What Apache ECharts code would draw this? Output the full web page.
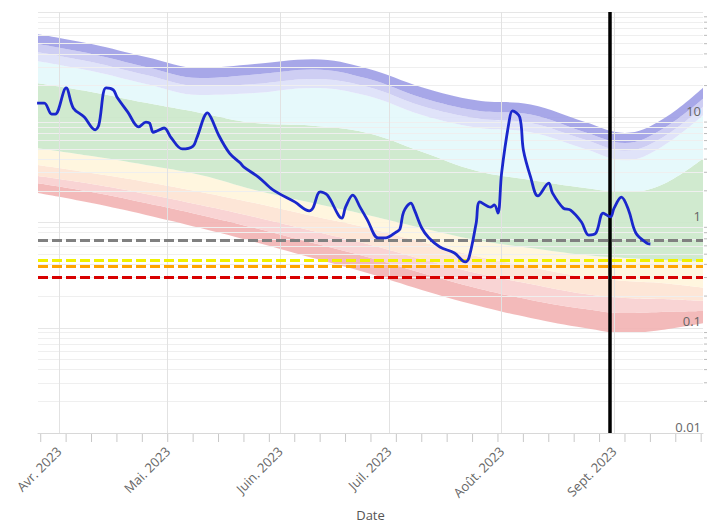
<!DOCTYPE html>
<html><head><meta charset="utf-8">
<script src="https://cdn.jsdelivr.net/npm/echarts@6/dist/echarts.min.js"></script>
<style>html,body{margin:0;padding:0;background:#fff}#c{width:715px;height:523px}</style>
</head><body><div id="c"></div>
<script>
const lineDates = ['2023-03-26','2023-03-28','2023-03-30','2023-03-31','2023-04-03','2023-04-05','2023-04-08','2023-04-11','2023-04-12','2023-04-14','2023-04-16','2023-04-17','2023-04-20','2023-04-23','2023-04-25','2023-04-26','2023-04-27','2023-04-28','2023-04-30','2023-05-02','2023-05-05','2023-05-08','2023-05-09','2023-05-12','2023-05-13','2023-05-15','2023-05-18','2023-05-21','2023-05-22','2023-05-26','2023-05-30','2023-06-05','2023-06-09','2023-06-10','2023-06-12','2023-06-14','2023-06-17','2023-06-18','2023-06-19','2023-06-21','2023-06-23','2023-06-25','2023-06-28','2023-06-30','2023-07-03','2023-07-04','2023-07-05','2023-07-07','2023-07-08','2023-07-10','2023-07-12','2023-07-15','2023-07-19','2023-07-22','2023-07-23','2023-07-25','2023-07-26','2023-07-29','2023-07-30','2023-07-31','2023-08-01','2023-08-03','2023-08-04','2023-08-06','2023-08-07','2023-08-09','2023-08-11','2023-08-14','2023-08-15','2023-08-18','2023-08-20','2023-08-23','2023-08-25','2023-08-27','2023-08-29','2023-08-31','2023-09-01','2023-09-03','2023-09-05','2023-09-07','2023-09-10','2023-09-11'];
const lineValues = [13.6,13.6,10.7,10.7,19.0,12.2,10.05,7.6,8.4,19.0,18.2,15.6,11.2,8.1,9.0,8.8,7.2,7.4,7.9,6.35,5.0,5.33,6.35,11.0,9.8,6.8,4.57,3.67,3.36,2.70,2.04,1.57,1.29,1.37,1.95,1.82,1.18,1.10,1.40,1.82,1.40,1.06,0.713,0.713,0.813,0.867,1.26,1.53,1.31,0.887,0.713,0.585,0.513,0.422,0.461,0.99,1.57,1.40,1.47,1.23,2.95,8.8,11.5,10.05,4.89,2.70,1.79,2.37,1.91,1.37,1.31,1.01,0.76,0.795,1.23,1.13,1.37,1.74,1.31,0.795,0.638,0.625];

const bandDates = ['2023-03-26','2023-04-10','2023-04-25','2023-05-10','2023-05-25','2023-06-10','2023-06-25','2023-07-10','2023-07-25','2023-08-09','2023-08-24','2023-09-04','2023-09-14','2023-09-26'];
const band0 = [1.91,1.53,1.18,0.887,0.653,0.46,0.331,0.229,0.164,0.124,0.0995,0.089,0.095,0.111];
const band1 = [2.37,1.95,1.53,1.18,0.887,0.638,0.47,0.331,0.239,0.184,0.151,0.138,0.141,0.144];
const band2 = [2.77,2.32,1.87,1.47,1.13,0.83,0.625,0.45,0.331,0.261,0.209,0.192,0.188,0.180];
const band3 = [3.52,2.95,2.43,1.95,1.53,1.15,0.887,0.653,0.481,0.378,0.303,0.278,0.266,0.239];
const band4 = [5.10,4.28,3.52,2.83,2.04,1.53,1.18,0.887,0.682,0.573,0.491,0.460,0.440,0.421];
const band5 = [21.1,17.4,13.7,11.0,8.8,8.3,7.1,4.7,3.1,2.54,2.13,1.95,2.27,4.19];
const band6 = [34.2,27.5,20.7,16.3,17.0,19.0,16.0,10.5,8.0,7.2,5.0,3.9,5.2,10.8];
const band7 = [41.7,33.5,25.2,19.8,20.7,23.1,19.5,12.8,9.8,8.8,6.1,4.8,6.3,13.0];
const band8 = [49.7,39.9,30.1,23.6,25.5,28.5,23.3,15.3,11.6,10.6,7.2,5.7,7.6,15.5];
const band9 = [61.8,49.6,37.4,29.4,32.0,35.5,29.0,19.3,14.5,13.2,9.0,7.1,9.4,19.8];
const bandColors = ['#f2b3b3','#f8cfcf','#fde3d3','#fff5dc','#cbe8ca','#e3f8fb','#dde0f8','#c9c9f2','#9d9de6'];

const thresholdValues = [0.68, 0.44, 0.375, 0.305];
const thresholdColors = ['#808080', '#f0f000', '#ffa500', '#d80000'];
const markerDate = '2023-08-30 16:00';

const monthStarts = ['2023-04-01','2023-05-01','2023-06-01','2023-07-01','2023-08-01','2023-09-01'];
const weekTicks = ['2023-03-27','2023-04-03','2023-04-10','2023-04-17','2023-04-24','2023-05-01','2023-05-08','2023-05-15','2023-05-22','2023-05-29','2023-06-05','2023-06-12','2023-06-19','2023-06-26','2023-07-03','2023-07-10','2023-07-17','2023-07-24','2023-07-31','2023-08-07','2023-08-14','2023-08-21','2023-08-28','2023-09-04','2023-09-11','2023-09-18','2023-09-25'];
const monthLabels = ['Janv. 2023','Févr. 2023','Mars 2023','Avr. 2023','Mai. 2023','Juin. 2023','Juil. 2023','Août. 2023','Sept. 2023','Oct. 2023','Nov. 2023','Déc. 2023'];
const yTickLabels = {'0.01':'0.01','0.1':'0.1','1':'1','10':'10'};
const yMinorGrid = [0.02,0.03,0.04,0.05,0.06,0.07,0.08,0.09,0.2,0.3,0.4,0.5,0.6,0.7,0.8,0.9,2,3,4,5,6,7,8,9,20,30,40,50,60,70,80,90];

const xMin = +new Date(2023, 2, 26, 6, 0);
const xMax = +new Date(2023, 8, 25, 12, 0);
const yMin = 0.01, yMax = 100;

const bounds = [band0, band1, band2, band3, band4, band5, band6, band7, band8, band9];
const series = [];
series.push({
  type: 'line', stack: 'bands', smooth: 0.4, symbol: 'none', silent: true, z: 1,
  lineStyle: {width: 0, opacity: 0},
  data: bandDates.map((d, i) => [d, band0[i]])
});
for (let k = 1; k < bounds.length; k++) {
  series.push({
    type: 'line', stack: 'bands', smooth: 0.4, symbol: 'none', silent: true, z: 1,
    lineStyle: {width: 0, opacity: 0},
    areaStyle: {color: bandColors[k - 1], opacity: 0.9},
    data: bandDates.map((d, i) => [d, bounds[k][i] - bounds[k - 1][i]])
  });
}
// gridlines (minor horizontal, monthly vertical)
series.push({
  type: 'line', data: [], silent: true, z: 0,
  markLine: {silent: true, symbol: 'none', label: {show: false}, animation: false,
    lineStyle: {color: '#efefef', width: 1, type: 'solid'},
    data: yMinorGrid.map(v => ({yAxis: v})).concat(monthStarts.map(d => ({xAxis: d, lineStyle: {color: '#e2e2e2', width: 1, type: 'solid'}})))}
});
// vertical marker
series.push({
  type: 'line', data: [], silent: true, z: 4,
  markLine: {silent: true, symbol: 'none', label: {show: false}, animation: false,
    lineStyle: {color: '#000', width: 3.5, type: 'solid'},
    data: [{xAxis: markerDate}]}
});
// threshold dashed lines
series.push({
  type: 'line', data: [], silent: true, z: 5,
  markLine: {silent: true, symbol: 'none', label: {show: false}, animation: false,
    data: thresholdValues.map((v, i) => ({yAxis: v, lineStyle: {color: thresholdColors[i], width: 3, type: [10, 4]}}))}
});
// main line
series.push({
  type: 'line', smooth: 0.35, symbol: 'none', z: 6,
  lineStyle: {color: '#1a27cc', width: 2.8},
  data: lineDates.map((d, i) => [d, lineValues[i]])
});
// weekly ticks
series.push({
  type: 'custom', silent: true, z: 3, clip: false,
  data: weekTicks.map(d => [d, yMin]),
  renderItem: (params, api) => {
    const p = api.coord([api.value(0), yMin]);
    return {type: 'line', shape: {x1: p[0], y1: p[1] + 1, x2: p[0], y2: p[1] + 9}, style: {stroke: '#c8c8c8', lineWidth: 1}};
  }
});
// right minor ticks
series.push({
  type: 'custom', silent: true, z: 3, clip: false,
  data: yMinorGrid.map(v => [xMax, v]),
  renderItem: (params, api) => {
    const p = api.coord([xMax, api.value(1)]);
    return {type: 'line', shape: {x1: p[0] + 1, y1: p[1], x2: p[0] + 4, y2: p[1]}, style: {stroke: '#bbb', lineWidth: 1}};
  }
});

const chart = echarts.init(document.getElementById('c'), null, {renderer: 'svg'});
chart.setOption({
  animation: false,
  backgroundColor: '#fff',
  grid: {left: 38, right: 12, top: 12, bottom: 90, containLabel: false, outerBoundsMode: 'none'},
  xAxis: {
    type: 'time', min: xMin, max: xMax, splitNumber: 6,
    minInterval: 28 * 86400000, maxInterval: 31 * 86400000,
    axisLine: {show: true, lineStyle: {color: '#d8d8d8'}},
    axisTick: {show: false},
    axisLabel: {
      rotate: 45, margin: 16, color: '#666', fontSize: 13, fontFamily: 'Open Sans',
      showMinLabel: false, showMaxLabel: false, hideOverlap: false,
      formatter: (v) => { const d = new Date(v); return (d.getDate() === 1 && d.getHours() === 0) ? monthLabels[d.getMonth()] : ''; }
    },
    splitLine: {show: false},
    name: 'Date', nameLocation: 'middle', nameGap: 75,
    nameTextStyle: {color: '#555', fontSize: 13, fontFamily: 'Open Sans'}
  },
  yAxis: [{
    type: 'log', logBase: 10, min: yMin, max: yMax, position: 'right',
    axisLine: {show: false}, axisTick: {show: false}, axisLabel: {show: false},
    splitLine: {show: true, lineStyle: {color: '#e6e6e6', width: 1}}
  }, {
    type: 'log', logBase: 10, min: yMin, max: yMax, position: 'right', z: 10,
    axisLine: {show: false}, axisTick: {show: false}, splitLine: {show: false},
    axisLabel: {inside: true, margin: 2, color: '#666', fontSize: 13, fontFamily: 'Open Sans',
      verticalAlign: 'bottom', showMaxLabel: false,
      formatter: (v) => yTickLabels[String(+v.toPrecision(3))] || ''}
  }],
  series: series
});
</script></body></html>
